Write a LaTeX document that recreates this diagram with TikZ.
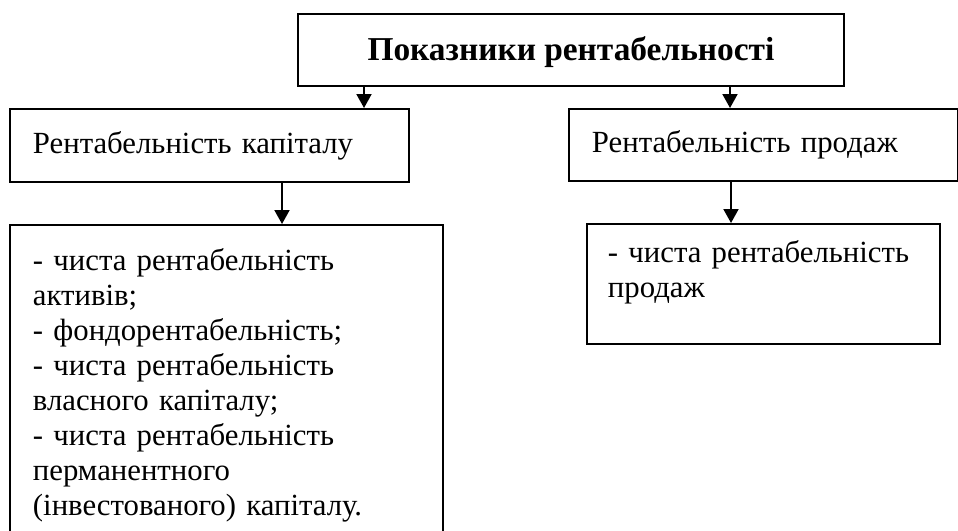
\documentclass[tikz,border=0pt]{standalone}
\usepackage{fontspec}
\setmainfont{Liberation Serif}
\usepackage{tikz}
\usetikzlibrary{arrows.meta, positioning, calc}
\definecolor{mydark}{RGB}{0,0,0}
\tikzset{
  box/.style={rectangle, draw=mydark, line width=1.1pt, anchor=north west,
    inner xsep=4.6mm, align=left, font=\fontsize{17.5}{19.9}\selectfont},
  titlebox/.style={rectangle, draw=mydark, line width=1.1pt, anchor=north west,
    align=center, font=\fontsize{19}{21}\selectfont\bfseries},
  listbox/.style={rectangle, draw=mydark, line width=1.1pt, anchor=north west,
    inner xsep=4.6mm, inner ysep=0pt, align=left, font=\fontsize{17.5}{19.9}\selectfont},
  arrow/.style={-{Triangle[length=2.8mm, width=3mm]}, line width=1.1pt, color=mydark}
}

\begin{document}
\begin{tikzpicture}[x=0.2mm, y=-0.2mm]
  \useasboundingbox (0,0) rectangle (958,530);

  % Nodes
  \node[titlebox, minimum width=109.2mm, minimum height=14.4mm, text depth=0.6mm] (top) at (297,13) {Показники рентабельності};
  \node[box, text width=70.6mm, minimum height=14.6mm] (cap) at (9,108) {Рентабельність капіталу};
  \node[box, text width=68.6mm, minimum height=14.4mm] (sales) at (568,108) {Рентабельність продаж};
  \node[listbox, text width=77.4mm, text height=9.2mm, text depth=60mm] (capList) at (9,224)
    {- чиста рентабельність\\активів;\\- фондорентабельність;\\- чиста рентабельність\\власного капіталу;\\- чиста рентабельність\\перманентного\\(інвестованого) капіталу.};
  \node[listbox, inner xsep=4.2mm, text width=62.2mm, text height=7.8mm, text depth=16.2mm] (salesList) at (586,223)
    {- чиста рентабельність\\продаж};

  % Paths
  \coordinate (tl) at ($(top.south west)+(67,0)$);
  \coordinate (tr) at ($(top.south west)+(433,0)$);
  \coordinate (cl) at ($(cap.south west)+(273,0)$);
  \coordinate (sr) at ($(sales.south west)+(163,0)$);
  \draw[arrow] (tl) -- (tl |- cap.north);
  \draw[arrow] (tr) -- (tr |- sales.north);
  \draw[arrow] (cl) -- (cl |- capList.north);
  \draw[arrow] (sr) -- (sr |- salesList.north);

\end{tikzpicture}
\end{document}
